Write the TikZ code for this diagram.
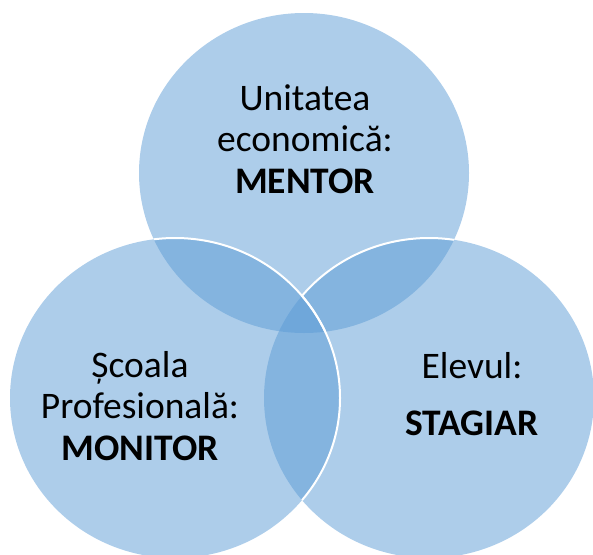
\documentclass[tikz,border=0pt]{standalone}
\usepackage{fontspec}
\setmainfont{Carlito}
\definecolor{vennblue}{HTML}{5B9BD5}

\begin{document}
\begin{tikzpicture}[x=1pt,y=-1pt,
  venn/.style={fill=vennblue, fill opacity=0.5},
  rim/.style={draw=white, line width=2pt},
  txt/.style={align=center, inner sep=0pt, font=\fontsize{37.5}{41.5}\selectfont}]
\useasboundingbox (0,0) rectangle (593,554);

\coordinate (mentorc) at (304,173);
\coordinate (stagiarc) at (429,398);
\coordinate (monitorc) at (175,398);

\fill[venn] (mentorc) ellipse (165 and 160);
\fill[venn] (stagiarc) ellipse (165 and 160);
\fill[venn] (monitorc) ellipse (165 and 160);

% white rims where the circles overlap
\begin{scope}
\clip (mentorc) ellipse (165 and 160);
\draw[rim] (monitorc) ellipse (165 and 160);
\begin{scope}[even odd rule]
\clip (0,0) rectangle (593,554) (monitorc) ellipse (165 and 160);
\draw[rim] (stagiarc) ellipse (165 and 160);
\end{scope}
\end{scope}
\begin{scope}
\clip (stagiarc) ellipse (165 and 160);
\draw[rim] (monitorc) ellipse (165 and 160);
\end{scope}

\node[txt, anchor=base] (mentor) at (305,193) {Unitatea\\economică:\\\textbf{MENTOR}};
\node[txt, anchor=base] (monitor) at (140,460) {Școala\\Profesională:\\\textbf{MONITOR}};
\node[txt, anchor=base] (stagiar) at (472,435) {Elevul:\\[15.5pt]\textbf{STAGIAR}};
\end{tikzpicture}
\end{document}
